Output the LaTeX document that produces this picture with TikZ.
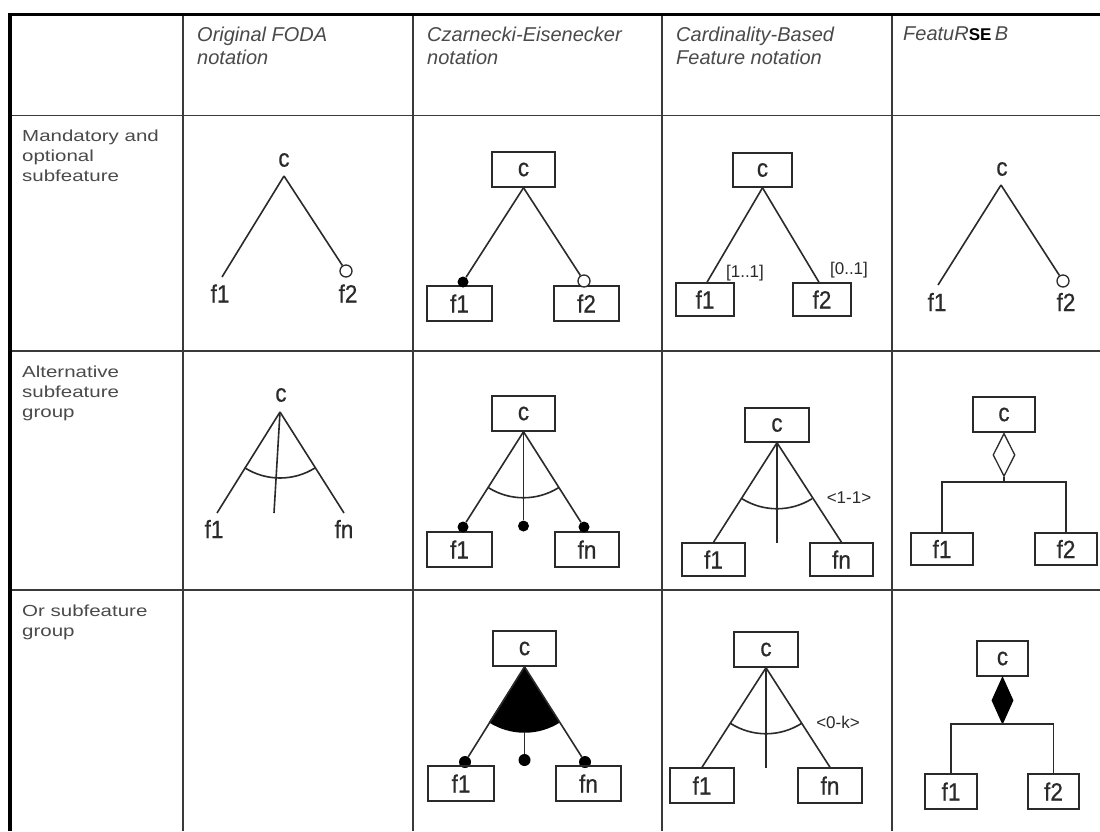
\documentclass[tikz,border=0pt]{standalone}
\usepackage{fontspec}
\setmainfont{Liberation Sans}
\newfontfamily\diagfont[FakeBold=0.6]{Liberation Sans}
\usetikzlibrary{shapes.geometric}
\definecolor{ink}{HTML}{2A2A2A}
\definecolor{rule}{HTML}{3A3A3A}
\definecolor{headgray}{HTML}{4A4A4A}
\newcommand{\rowtext}[1]{\scalebox{1.28}[1]{#1}}
\newcommand{\ftext}[1]{\scalebox{0.9}[1]{#1}}
\begin{document}
\begin{tikzpicture}[x=1pt,y=-1pt,
  gridline/.style={draw=rule, line width=1.4pt},
  frame/.style={draw=black, line width=3.2pt},
  head/.style={anchor=north west, align=left, inner sep=0pt, text=headgray,
    font=\fontsize{20}{23}\selectfont\itshape},
  rowlbl/.style={anchor=north west, align=left, inner sep=0pt, text=headgray,
    font=\fontsize{16}{20}\selectfont},
  lbl/.style={inner sep=0pt, text=ink, font=\diagfont\fontsize{25}{25}\selectfont},
  feat/.style={rectangle, draw=ink, line width=1.5pt, inner sep=0pt,
    minimum height=35pt, text=ink, font=\diagfont\fontsize{25}{25}\selectfont},
  conn/.style={draw=ink, line width=1.6pt},
  mand/.style={circle, fill=black, inner sep=0pt, minimum size=11pt},
  opt/.style={circle, draw=ink, fill=white, line width=1.3pt, inner sep=0pt, minimum size=12pt},
  card/.style={inner sep=1pt, text=ink, font=\fontsize{17}{17}\selectfont},
  grp/.style={diamond, draw=ink, line width=1.3pt, inner sep=0pt, anchor=north},
]
\useasboundingbox (0,0) rectangle (1100,831);
\fill[white] (0,0) rectangle (1100,831);

% table rules
\draw[gridline] (10,115.5) -- (1100,115.5);
\draw[gridline] (10,351) -- (1100,351);
\draw[gridline] (10,590) -- (1100,590);
\foreach \x in {183,413,662,892} \draw[gridline] (\x,15) -- (\x,831);
\draw[frame] (10,831) -- (10,14.5) -- (1100,14.5);

% column headings
\node[head] (h1) at (197,27) {Original FODA\\notation};
\node[head] (h2) at (427,27) {Czarnecki-Eisenecker\\notation};
\node[head] (h3) at (676,27) {Cardinality-Based\\Feature notation};
\node[head] (h4) at (903,27) {FeatuR{\upshape\bfseries\fontsize{17}{17}\selectfont\color{black}SE}\,B};

% row headings
\node[rowlbl] (r1) at (22,130) {\rowtext{Mandatory and}\\\rowtext{optional}\\\rowtext{subfeature}};
\node[rowlbl] (r2) at (22,366) {\rowtext{Alternative}\\\rowtext{subfeature}\\\rowtext{group}};
\node[rowlbl] (r3) at (22,605) {\rowtext{Or subfeature}\\\rowtext{group}};

% ---------- mandatory / optional ----------
% FODA
\node[lbl] (a1c) at (284,160) {\ftext{c}};
\coordinate (a1top) at (284,176);
\coordinate (a1l) at (222,277);
\node[opt] (a1o) at (346,271) {};
\node[lbl] (a1f1) at (220,293.5) {\ftext{f1}};
\node[lbl] (a1f2) at (348,293.5) {\ftext{f2}};
\draw[conn] (a1top) -- (a1l);
\draw[conn] (a1top) -- (a1o);

% Czarnecki-Eisenecker
\node[feat, minimum width=63pt] (b1c) at (523.5,169.5) {\ftext{c}};
\node[feat, minimum width=65pt] (b1f1) at (459.5,303.5) {\ftext{f1}};
\node[feat, minimum width=65pt] (b1f2) at (586.5,303.5) {\ftext{f2}};
\node[mand] (b1m) at (463,282) {};
\node[opt] (b1o) at (584,281) {};
\draw[conn] (b1c.south) -- (b1m);
\draw[conn] (b1c.south) -- (b1o);

% cardinality-based
\node[feat, minimum width=59pt, minimum height=34pt] (c1c) at (762.5,170) {\ftext{c}};
\node[feat, minimum width=58pt, minimum height=33pt] (c1f1) at (705,299.5) {\ftext{f1}};
\node[feat, minimum width=58pt, minimum height=33pt] (c1f2) at (822,299.5) {\ftext{f2}};
\draw[conn] (c1c.south) -- ([xshift=2pt]c1f1.north);
\draw[conn] (c1c.south) -- ([xshift=-3pt]c1f2.north);
\node[card, fill=white] (c1m) at (745,273) {[1..1]};
\node[card] (c1o) at (849,270) {[0..1]};

% FeatuRSEB
\node[lbl] (d1c) at (1002,169) {\ftext{c}};
\coordinate (d1top) at (1001,185);
\coordinate (d1l) at (938,285);
\node[opt] (d1o) at (1063,281) {};
\node[lbl] (d1f1) at (937,302) {\ftext{f1}};
\node[lbl] (d1f2) at (1066,302) {\ftext{f2}};
\draw[conn] (d1top) -- (d1l);
\draw[conn] (d1top) -- (d1o);

% ---------- alternative group ----------
% FODA
\node[lbl] (a2c) at (281,395) {\ftext{c}};
\coordinate (a2top) at (280,412);
\coordinate (a2l) at (217,513);
\coordinate (a2r) at (344,513);
\coordinate (a2m) at (274,513);
\draw[conn] (a2top) -- (a2l);
\draw[conn] (a2top) -- (a2r);
\draw[conn] (a2top) -- (a2m);
\draw[conn] (a2top) ++(122.5:66) arc[start angle=122.5, end angle=57.5, radius=66];
\node[lbl] (a2f1) at (214,529) {\ftext{f1}};
\node[lbl] (a2fn) at (344,529) {\ftext{fn}};

% Czarnecki-Eisenecker
\node[feat, minimum width=63pt] (b2c) at (523.5,413.5) {\ftext{c}};
\node[feat, minimum width=65pt] (b2f1) at (459.5,549.5) {\ftext{f1}};
\node[feat, minimum width=64pt] (b2fn) at (587,549.5) {\ftext{fn}};
\node[mand] (b2m1) at (463,527) {};
\node[mand] (b2m2) at (523.5,526) {};
\node[mand] (b2m3) at (584,527) {};
\draw[conn] (b2c.south) -- (b2m1);
\draw[conn] (b2c.south) -- (b2m2);
\draw[conn] (b2c.south) -- (b2m3);
\draw[conn] (b2c.south) ++(122:66) arc[start angle=122, end angle=58, radius=66];

% cardinality-based
\node[feat, minimum width=64pt, minimum height=34pt] (c2c) at (777,425) {\ftext{c}};
\node[feat, minimum width=63pt, minimum height=33pt] (c2f1) at (713.5,559.5) {\ftext{f1}};
\node[feat, minimum width=63pt, minimum height=33pt] (c2fn) at (841.5,559.5) {\ftext{fn}};
\coordinate (c2m) at (777,543);
\draw[conn] (c2c.south) -- (c2f1.north);
\draw[conn] (c2c.south) -- (c2fn.north);
\draw[conn] (c2c.south) -- (c2m);
\draw[conn] (c2c.south) ++(122:66) arc[start angle=122, end angle=58, radius=66];
\node[card] (c2k) at (849,498) {<1-1>};

% FeatuRSEB
\node[feat, minimum width=62pt] (d2c) at (1004,414.5) {\ftext{c}};
\node[grp, minimum width=22pt, minimum height=43pt] (d2g) at (d2c.south) {};
\coordinate (d2j) at (1004,482);
\node[feat, minimum width=62pt, minimum height=32pt] (d2f1) at (942,549) {\ftext{f1}};
\node[feat, minimum width=62pt, minimum height=32pt] (d2f2) at (1066,549) {\ftext{f2}};
\draw[conn] (d2g.south) -- (d2j);
\draw[conn] (d2f1.north) |- (d2j) -| (d2f2.north);

% ---------- or group ----------
% Czarnecki-Eisenecker
\node[feat, minimum width=63pt] (b3c) at (524.5,648.5) {\ftext{c}};
\fill[black] (b3c.south) -- ++(122.7:66) arc[start angle=122.7, end angle=57.3, radius=66] -- cycle;
\node[mand, minimum height=12pt] (b3m1) at (465,762) {};
\node[mand, minimum height=12pt] (b3m2) at (524.5,760) {};
\node[mand, minimum height=12pt] (b3m3) at (585,762) {};
\coordinate (b3arc) at (524.5,732);
\draw[conn] (b3c.south) -- (b3m1);
\draw[conn] (b3c.south) -- (b3m3);
\draw[conn] (b3arc) -- (b3m2);
\node[feat, minimum width=66pt] (b3f1) at (461,783.5) {\ftext{f1}};
\node[feat, minimum width=65pt] (b3fn) at (588.5,783.5) {\ftext{fn}};

% cardinality-based
\node[feat, minimum width=64pt] (c3c) at (766,649.5) {\ftext{c}};
\node[feat, minimum width=64pt] (c3f1) at (702,785.5) {\ftext{f1}};
\node[feat, minimum width=64pt] (c3fn) at (830,785.5) {\ftext{fn}};
\coordinate (c3m) at (766,768);
\draw[conn] (c3c.south) -- (c3f1.north);
\draw[conn] (c3c.south) -- (c3fn.north);
\draw[conn] (c3c.south) -- (c3m);
\draw[conn] (c3c.south) ++(123:66) arc[start angle=123, end angle=57, radius=66];
\node[card] (c3k) at (838,722) {<0-k>};

% FeatuRSEB
\node[feat, minimum width=51pt] (d3c) at (1002.5,658.5) {\ftext{c}};
\node[grp, fill=black, draw=black, minimum width=21pt, minimum height=46pt] (d3g) at (d3c.south) {};
\coordinate (d3j) at (1003,724);
\node[feat, minimum width=52pt] (d3f1) at (951,791.5) {\ftext{f1}};
\node[feat, minimum width=51pt] (d3f2) at (1053.5,791.5) {\ftext{f2}};
\draw[conn] (d3g.south) -- (d3j);
\draw[conn] (d3f1.north) |- (d3j) -| (d3f2.north);
\end{tikzpicture}
\end{document}
